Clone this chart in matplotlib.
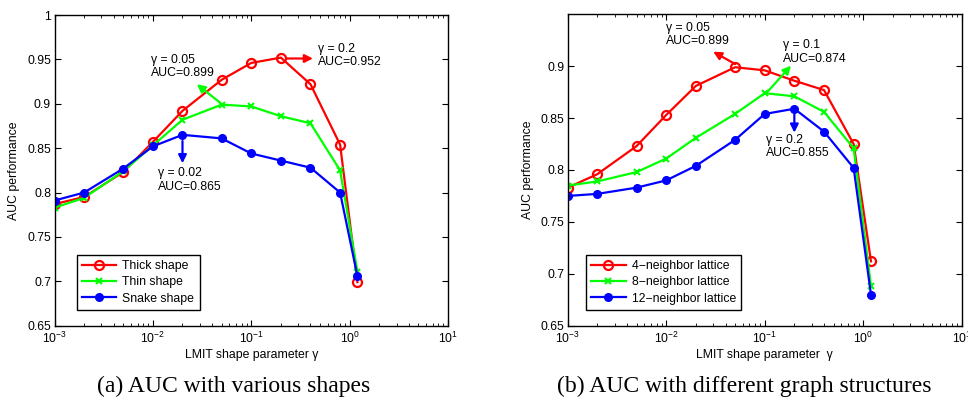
import matplotlib
matplotlib.use('Agg')
import matplotlib.pyplot as plt
from matplotlib.ticker import FixedLocator, LogLocator, NullFormatter

plt.rcParams['font.family'] = ['Liberation Sans', 'DejaVu Sans']

# shape parameter values (same for both panels)
gammas = [1e-3, 2e-3, 5e-3, 1e-2, 2e-2, 5e-2, 0.1, 0.2, 0.4, 0.8, 1.2]

# (a) AUC with various shapes
thick = [0.787, 0.795, 0.823, 0.857, 0.892, 0.927, 0.946, 0.952, 0.922, 0.854, 0.699]
thin = [0.783, 0.794, 0.824, 0.853, 0.882, 0.899, 0.897, 0.886, 0.878, 0.825, 0.711]
snake = [0.791, 0.800, 0.827, 0.852, 0.865, 0.861, 0.844, 0.836, 0.828, 0.800, 0.706]
labels_a = ['Thick shape', 'Thin shape', 'Snake shape']

# (b) AUC with different graph structures
n4 = [0.783, 0.796, 0.823, 0.853, 0.881, 0.899, 0.896, 0.886, 0.877, 0.825, 0.712]
n8 = [0.785, 0.789, 0.798, 0.811, 0.831, 0.854, 0.874, 0.871, 0.856, 0.821, 0.688]
n12 = [0.775, 0.777, 0.783, 0.790, 0.804, 0.829, 0.854, 0.859, 0.837, 0.802, 0.680]
labels_b = ['4\u2212neighbor lattice', '8\u2212neighbor lattice', '12\u2212neighbor lattice']

colors = ['#ff0000', '#00ff00', '#0000ff']
markers = ['o', 'x', '.']

fig = plt.figure(figsize=(9.68, 3.99), dpi=100)
W, H = 968, 399
ax1 = fig.add_axes([54.5 / W, 1 - 325.7 / H, (448 - 54.5) / W, (325.7 - 15) / H])
ax2 = fig.add_axes([567.7 / W, 1 - 325.7 / H, (961.7 - 567.7) / W, (325.7 - 14.3) / H])

fs = 8.8


def draw(ax, series, labels, ylim, yticks, xlabel, legx):
    for ys, c, m, lab in zip(series, colors, markers, labels):
        kw = dict(color=c, lw=1.6, marker=m, label=lab)
        if m == 'o':
            kw.update(markersize=6.5, markerfacecolor='none', markeredgewidth=1.6)
        elif m == '.':
            kw.update(markersize=11)
        else:
            kw.update(markersize=4.5, markeredgewidth=1.5)
        ax.plot(gammas, ys, **kw)
    ax.set_xscale('log')
    ax.set_xlim(1e-3, 10)
    ax.set_ylim(*ylim)
    ax.yaxis.set_major_locator(FixedLocator(yticks))
    ax.set_yticklabels(['%g' % t for t in yticks])
    ax.xaxis.set_major_locator(LogLocator(base=10, numticks=10))
    ax.xaxis.set_minor_locator(LogLocator(base=10, subs=range(2, 10), numticks=20))
    ax.xaxis.set_minor_formatter(NullFormatter())
    ax.tick_params(which='both', direction='in', top=True, right=True, labelsize=fs)
    ax.tick_params(which='major', length=4, width=0.8, pad=4)
    ax.tick_params(axis='y', pad=2.5)
    ax.tick_params(which='minor', length=2, width=0.6)
    for s in ax.spines.values():
        s.set_linewidth(1.0)
    ax.set_xlabel(xlabel, fontsize=fs, labelpad=2)
    ax.set_ylabel('AUC performance', fontsize=fs, labelpad=5)
    leg = ax.legend(loc='lower left', bbox_to_anchor=(legx, 0.05), fontsize=fs,
                    fancybox=False, edgecolor='black', framealpha=1,
                    handlelength=2.8, borderpad=0.45, labelspacing=0.35, handletextpad=0.5,
                    borderaxespad=0)
    leg.get_frame().set_linewidth(1.0)


draw(ax1, [thick, thin, snake], labels_a, (0.65, 1.0),
     [0.65, 0.7, 0.75, 0.8, 0.85, 0.9, 0.95, 1.0], 'LMIT shape parameter \u03b3', 0.056)
draw(ax2, [n4, n8, n12], labels_b, (0.65, 0.95),
     [0.65, 0.7, 0.75, 0.8, 0.85, 0.9], 'LMIT shape parameter  \u03b3', 0.046)

arrow = lambda c: dict(arrowstyle='-|>', color=c, lw=1.6, mutation_scale=12, shrinkA=0, shrinkB=0)
tk = dict(fontsize=fs, va='top', linespacing=1.2)

# panel (a) annotations
ax1.annotate('', xy=(0.424, 0.951), xytext=(0.23, 0.951), arrowprops=arrow(colors[0]))
ax1.text(0.476, 0.969, '\u03b3 = 0.2\nAUC=0.952', **tk)
ax1.annotate('', xy=(0.028, 0.922), xytext=(0.0485, 0.901), arrowprops=arrow(colors[1]))
ax1.text(0.00957, 0.9565, '\u03b3 = 0.05\nAUC=0.899', **tk)
ax1.annotate('', xy=(0.02, 0.833), xytext=(0.02, 0.858), arrowprops=arrow(colors[2]))
ax1.text(0.01128, 0.829, '\u03b3 = 0.02\nAUC=0.865', **tk)

# panel (b) annotations
ax2.annotate('', xy=(0.030, 0.914), xytext=(0.0502, 0.902), arrowprops=arrow(colors[0]))
ax2.text(0.00988, 0.943, '\u03b3 = 0.05\nAUC=0.899', **tk)
ax2.annotate('', xy=(0.185, 0.9005), xytext=(0.106, 0.875), arrowprops=arrow(colors[1]))
ax2.text(0.152, 0.926, '\u03b3 = 0.1\nAUC=0.874', **tk)
ax2.annotate('', xy=(0.2, 0.836), xytext=(0.2, 0.855), arrowprops=arrow(colors[2]))
ax2.text(0.103, 0.835, '\u03b3 = 0.2\nAUC=0.855', **tk)

serif = ['Liberation Serif', 'DejaVu Serif']
fig.text(234 / W, 1 - 386 / H, '(a) AUC with various shapes', ha='center', va='center',
         fontsize=17, family=serif)
fig.text(744.5 / W, 1 - 386 / H, '(b) AUC with different graph structures', ha='center', va='center',
         fontsize=17, family=serif)

fig.savefig('out.png', dpi=100)
